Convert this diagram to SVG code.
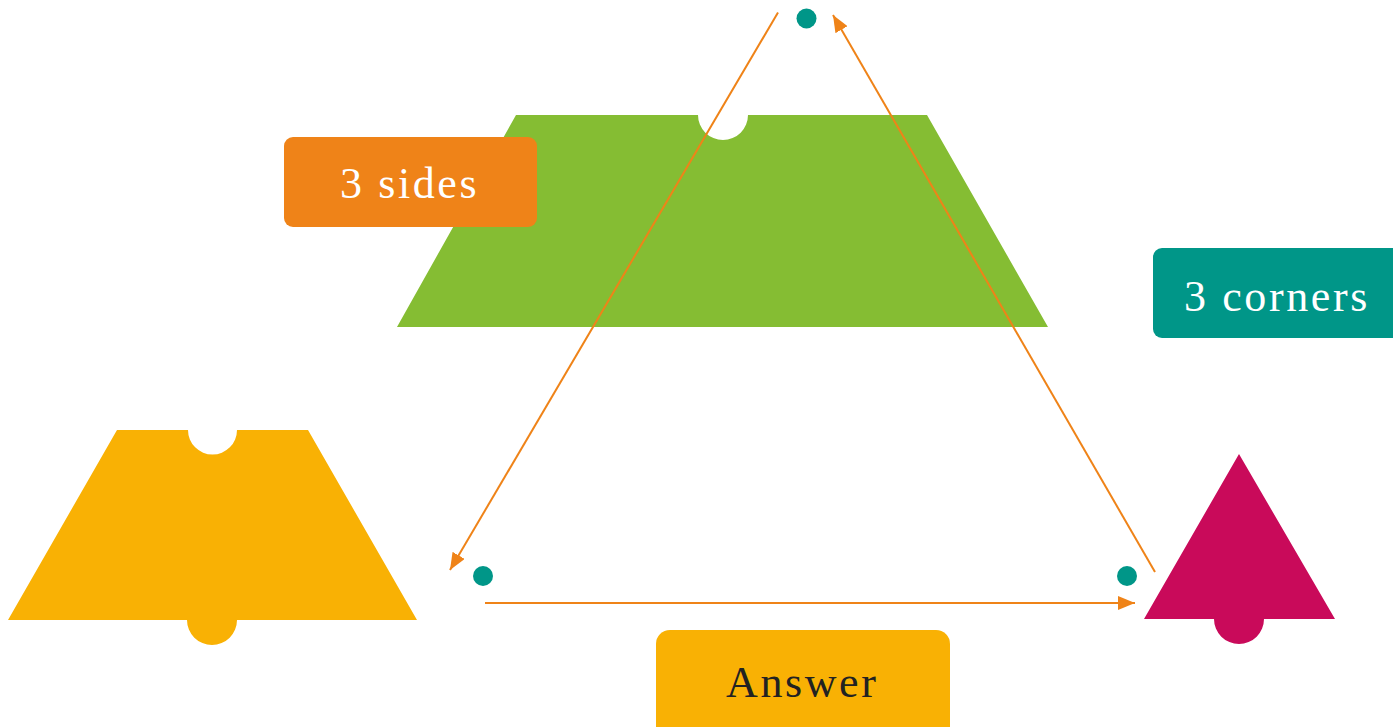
<svg xmlns="http://www.w3.org/2000/svg" width="1393" height="727" viewBox="0 0 1393 727">
<style>
.lbl{font-family:"Liberation Serif","Times New Roman",serif;font-size:44px;letter-spacing:2.6px}
.w{fill:#ffffff}
.k{fill:#222222}
.conn{stroke:#EF8318;stroke-width:2;fill:none}
.dot{fill:#009688}
</style>
<defs>
<marker id="ah" viewBox="0 0 17 14" refX="17" refY="7" markerWidth="17" markerHeight="14" markerUnits="userSpaceOnUse" orient="auto">
<path d="M0,0 L17,7 L0,14 Z" fill="#EF8318"/>
</marker>
</defs>
<g id="green-trapezoid">
<path d="M516,115 L698,115 A25,25 0 0 0 748,115 L927,115 L1048,327 L397,327 Z" fill="#85BD33"/>
</g>
<g id="yellow-trapezoid">
<path d="M117,430 L188,430 A24.5,24.5 0 0 0 237,430 L308,430 L417,620 L237,620 A25,25 0 0 1 187,620 L8,620 Z" fill="#F9B104"/>
</g>
<g id="magenta-triangle">
<path d="M1239,454 L1335,619 L1264,619 A25,25 0 0 1 1214,619 L1144,619 Z" fill="#C90A5A"/>
</g>
<g id="dots">
<circle class="dot" cx="806.5" cy="18.5" r="10"/>
<circle class="dot" cx="483" cy="576" r="10"/>
<circle class="dot" cx="1127" cy="576" r="10"/>
</g>
<g id="connectors">
<line class="conn" x1="778" y1="12.5" x2="450" y2="570" marker-end="url(#ah)"/>
<line class="conn" x1="485" y1="603" x2="1135" y2="603" marker-end="url(#ah)"/>
<line class="conn" x1="1155" y1="572" x2="833" y2="15" marker-end="url(#ah)"/>
</g>
<g id="label-sides">
<rect x="284" y="137" width="253" height="90" rx="9" fill="#EF8318"/>
<text class="lbl w" x="340" y="198">3 sides</text>
</g>
<g id="label-corners">
<rect x="1153" y="248" width="250" height="90" rx="9" fill="#009688"/>
<text class="lbl w" x="1184" y="311">3 corners</text>
</g>
<g id="label-answer">
<rect x="656" y="630" width="294" height="110" rx="14" fill="#F9B104"/>
<text class="lbl k" x="726" y="697">Answer</text>
</g>
</svg>
